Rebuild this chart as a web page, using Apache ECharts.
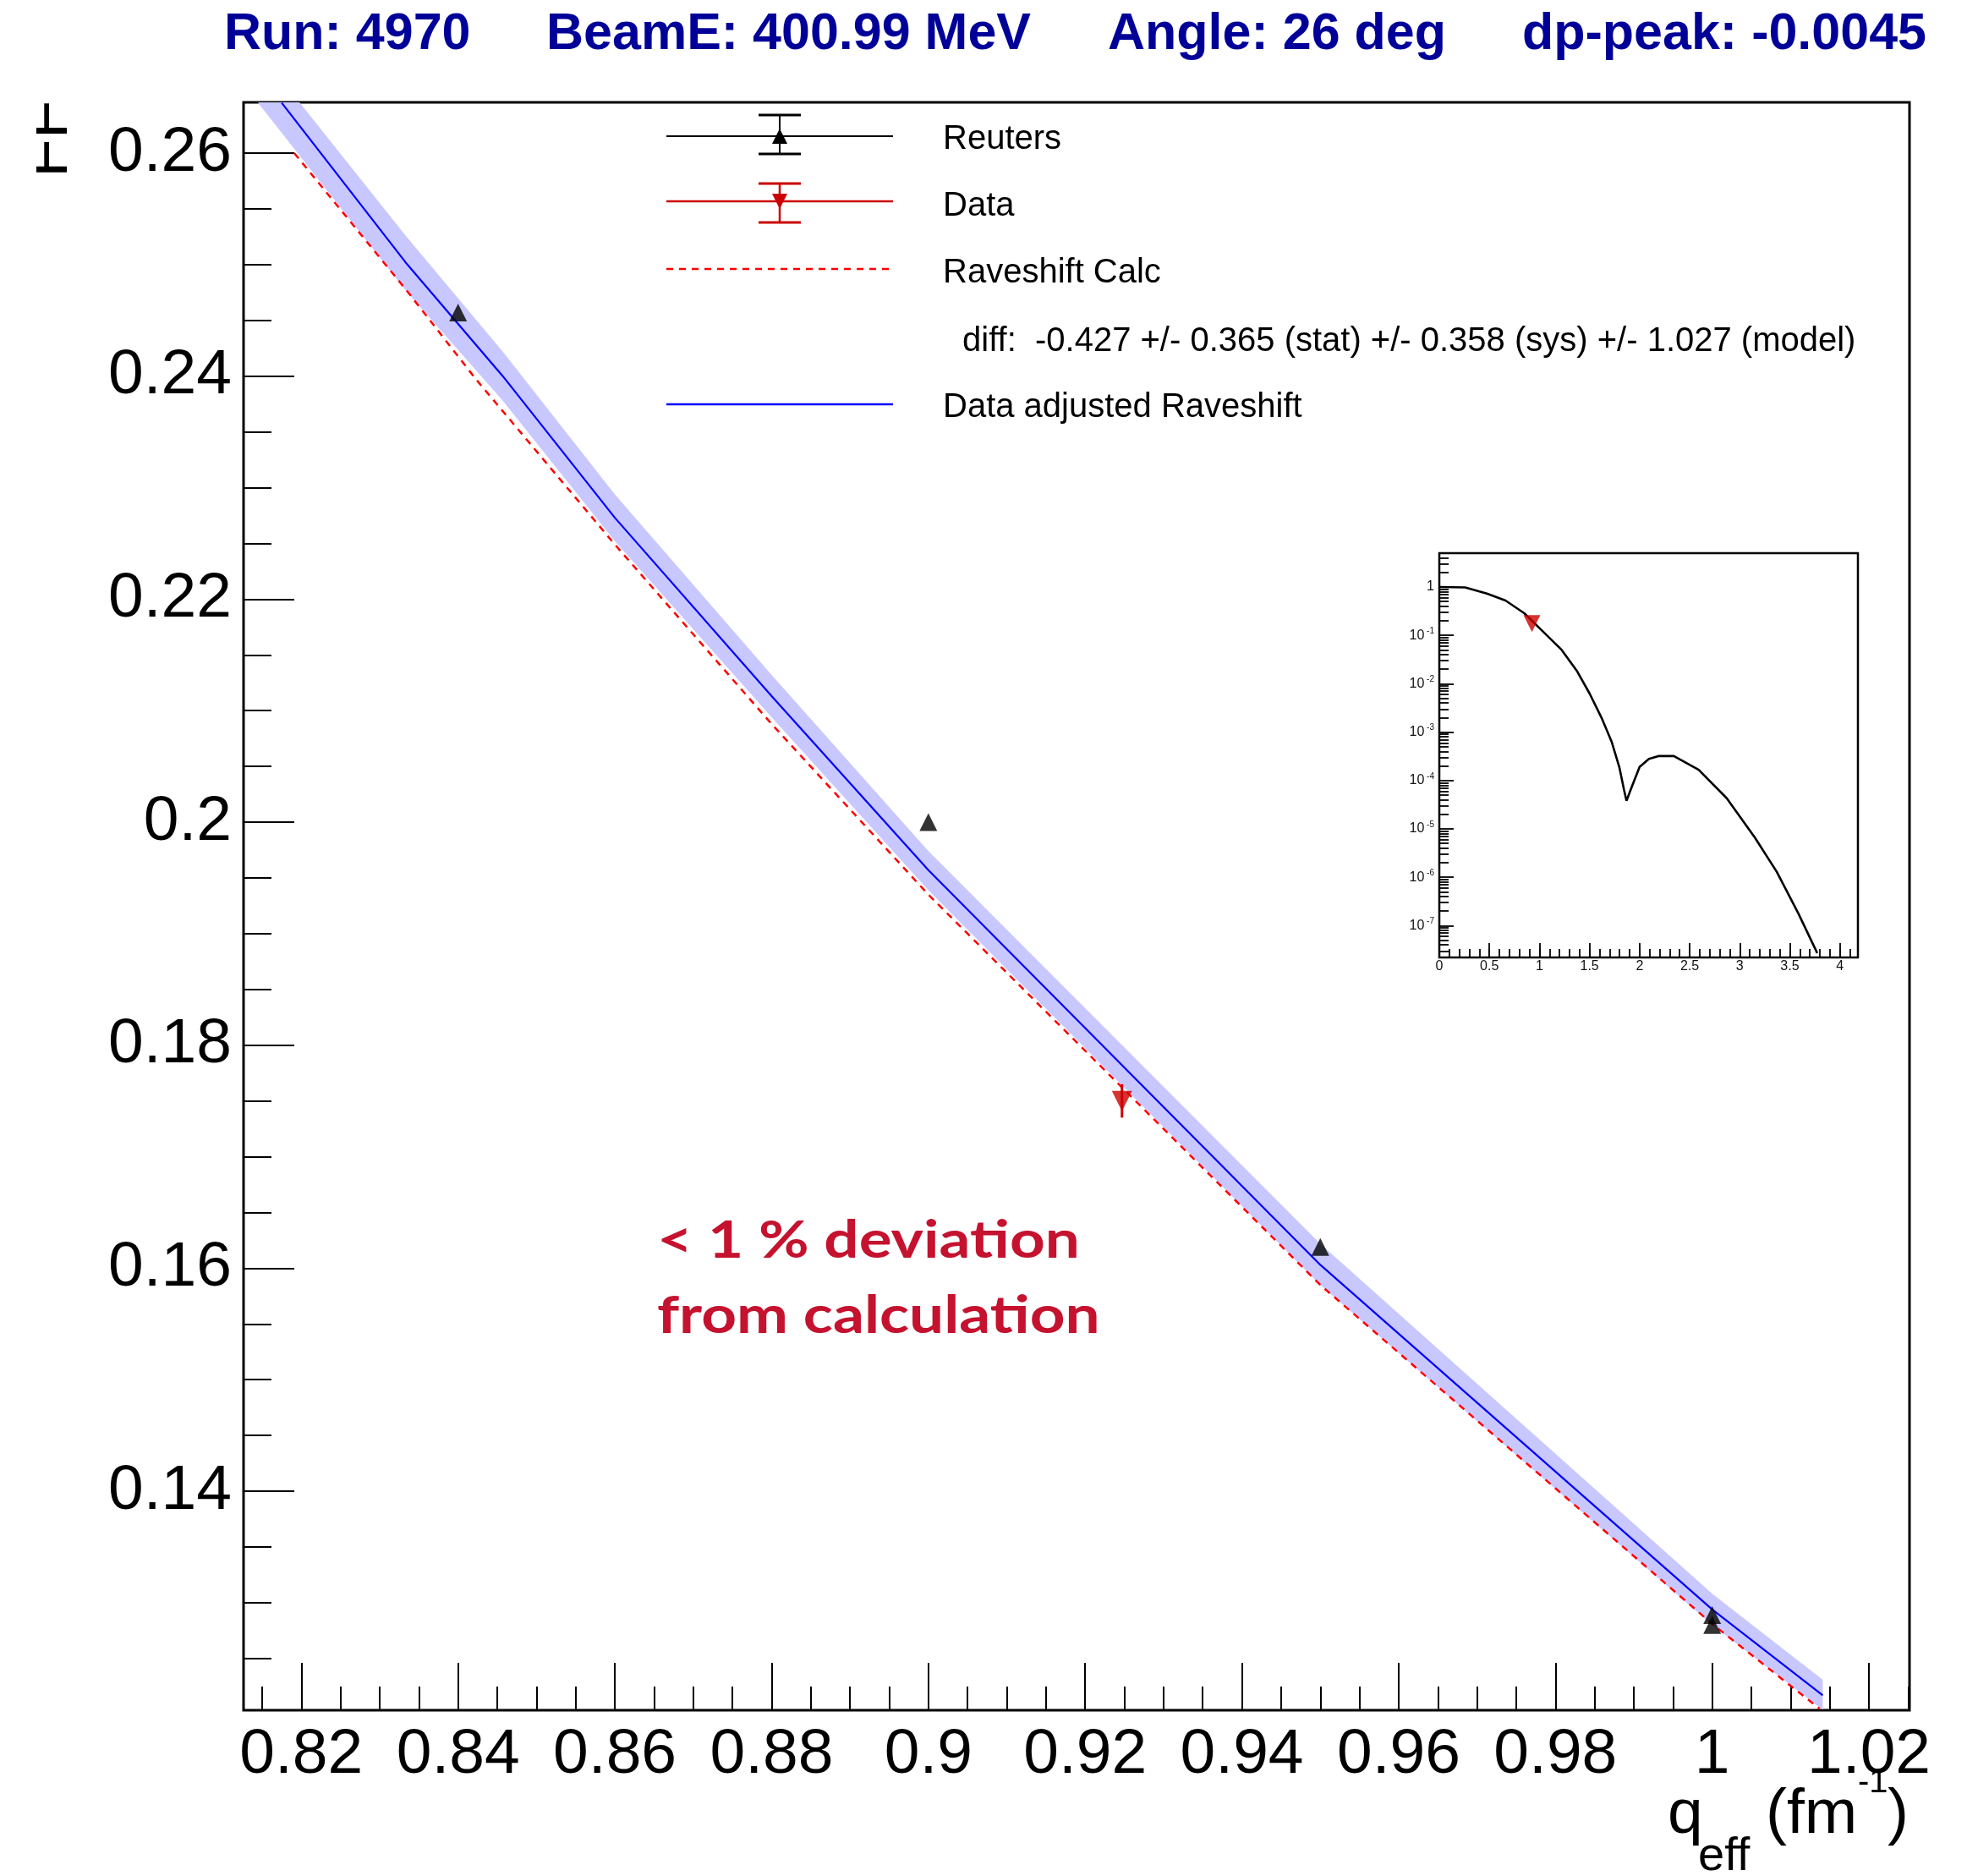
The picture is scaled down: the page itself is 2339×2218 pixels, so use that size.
<!DOCTYPE html>
<html><head><meta charset="utf-8">
<script src="https://cdn.jsdelivr.net/npm/echarts@6/dist/echarts.min.js"></script>
<style>html,body{margin:0;padding:0;background:#fff}#c{width:2339px;height:2218px}</style>
</head><body><div id="c"></div>
<script>
// ---- main panel data ----
const calcX = [0.8191, 0.8333, 0.8423, 0.86, 0.88, 0.90, 0.95, 1.00, 1.0137];
const calcY = [0.2600, 0.2478, 0.2397, 0.2249, 0.2088, 0.1935, 0.1585, 0.1281, 0.1205];
const fitX  = [0.8175, 0.8333, 0.8457, 0.86, 0.88, 0.90, 0.95, 1.00, 1.0141];
const fitY  = [0.2645, 0.2502, 0.2400, 0.2273, 0.2113, 0.1957, 0.1603, 0.1294, 0.1217];
const bandX  = [0.8145, 0.8333, 0.8457, 0.86, 0.88, 0.90, 0.95, 1.00, 1.0141];
const bandLo = [0.2645, 0.2477, 0.2378, 0.2252, 0.2094, 0.1939, 0.1585, 0.1280, 0.1204];
const bandHi = [0.2692, 0.2526, 0.2422, 0.2294, 0.2132, 0.1974, 0.1622, 0.1308, 0.1231];
const reutersX = [0.84, 0.90, 0.95, 1.00, 1.00];
const reutersY = [0.2457, 0.2000, 0.1619, 0.1289, 0.1280];
const dataX = [0.9247];
const dataY = [0.1750];
const dataErr = [0.0015];
const xMajor = [0.82, 0.84, 0.86, 0.88, 0.9, 0.92, 0.94, 0.96, 0.98, 1, 1.02];
const yMajor = [0.14, 0.16, 0.18, 0.2, 0.22, 0.24, 0.26];
const xMinor = []; for (let i = 163; i <= 205; i++) xMinor.push(+(i * 0.005).toFixed(3));
const yMinor = []; for (let i = 25; i <= 52; i++) yMinor.push(+(i * 0.005).toFixed(3));
// ---- inset data ----
const insetQ = [0, 0.257, 0.4745, 0.661, 0.848, 1.035, 1.222, 1.377, 1.502, 1.626, 1.72, 1.797, 1.844, 1.869, 1.922, 2.0, 2.093, 2.187, 2.342, 2.59, 2.87, 3.151, 3.369, 3.587, 3.774];
const insetF = [1.0, 0.98, 0.73, 0.525, 0.287, 0.12, 0.05, 0.018, 6.2e-3, 1.86e-3, 6.4e-4, 1.9e-4, 6.5e-5, 3.8e-5, 7.4e-5, 1.9e-4, 2.8e-4, 3.2e-4, 3.2e-4, 1.66e-4, 4.3e-5, 6.6e-6, 1.3e-6, 1.76e-7, 2.7e-8];
const insetXMajor = [0, 0.5, 1, 1.5, 2, 2.5, 3, 3.5, 4];
const insetXMinor = []; for (let i = 0; i <= 41; i++) insetXMinor.push(+(i * 0.1).toFixed(1));
const insetYMajor = [1e-7, 1e-6, 1e-5, 1e-4, 1e-3, 1e-2, 1e-1, 1];
const insetYMinor = []; for (let e = -8; e <= 0; e++) for (let k = 2; k <= 9; k++) { const v = k * Math.pow(10, e); if (v > 2.2e-8 && v < 5) insetYMinor.push(v); }

const X_MIN = 0.81263, X_MAX = 1.02517, Y_MIN = 0.12036, Y_MAX = 0.26455;
const FONT = '"Liberation Sans", Arial, sans-serif';
const chart = echarts.init(document.getElementById('c'), null, {renderer: 'canvas'});

function pairs(xs, ys) { return xs.map((x, i) => [x, ys[i]]); }
const tickStyle = {color: '#000', width: 2};
const insetTick = {color: '#000', width: 1.8};

const option = {
  animation: false,
  backgroundColor: '#fff',
  grid: [
    {left: 288, top: 121, right: 81, bottom: 196, show: true, borderColor: '#000', borderWidth: 3, backgroundColor: 'transparent'},
    {left: 1702, top: 654, width: 495, height: 478, show: true, borderColor: '#000', borderWidth: 2.5, backgroundColor: '#fff'}
  ],
  xAxis: [
    {gridIndex: 0, type: 'value', min: X_MIN, max: X_MAX, position: 'bottom', axisLine: {show: false}, splitLine: {show: false},
     axisTick: {inside: true, length: 56, lineStyle: tickStyle, customValues: xMajor},
     axisLabel: {customValues: xMajor, fontSize: 75, fontFamily: FONT, color: '#000', margin: 16}},
    {gridIndex: 0, type: 'value', min: X_MIN, max: X_MAX, position: 'bottom', axisLine: {show: false}, splitLine: {show: false},
     axisTick: {inside: true, length: 28, lineStyle: tickStyle, customValues: xMinor}, axisLabel: {show: false}},
    {gridIndex: 1, type: 'value', min: 0, max: 4.18, position: 'bottom', axisLine: {show: false}, splitLine: {show: false},
     axisTick: {inside: true, length: 17, lineStyle: insetTick, customValues: insetXMajor},
     axisLabel: {customValues: insetXMajor, fontSize: 16, fontFamily: FONT, color: '#111', margin: 3}},
    {gridIndex: 1, type: 'value', min: 0, max: 4.18, position: 'bottom', axisLine: {show: false}, splitLine: {show: false},
     axisTick: {inside: true, length: 10, lineStyle: insetTick, customValues: insetXMinor}, axisLabel: {show: false}}
  ],
  yAxis: [
    {gridIndex: 0, type: 'value', min: Y_MIN, max: Y_MAX, position: 'left', axisLine: {show: false}, splitLine: {show: false},
     axisTick: {inside: true, length: 60, lineStyle: tickStyle, customValues: yMajor},
     axisLabel: {customValues: yMajor, fontSize: 75, fontFamily: FONT, color: '#000', margin: 14}},
    {gridIndex: 0, type: 'value', min: Y_MIN, max: Y_MAX, position: 'left', axisLine: {show: false}, splitLine: {show: false},
     axisTick: {inside: true, length: 33, lineStyle: tickStyle, customValues: yMinor}, axisLabel: {show: false}},
    {gridIndex: 1, type: 'log', logBase: 10, min: 2.2e-8, max: 5, position: 'left', axisLine: {show: false}, splitLine: {show: false},
     axisTick: {inside: true, length: 17, lineStyle: insetTick, customValues: insetYMajor},
     axisLabel: {customValues: insetYMajor, fontFamily: FONT, color: '#111', margin: 6,
       formatter: v => { const e = Math.round(Math.log10(v)); return e === 0 ? '{b|1}' : '{b|10}{s| ' + e + '}'; },
       rich: {b: {fontSize: 16, fontFamily: FONT, lineHeight: 20}, s: {fontSize: 10, fontFamily: FONT, lineHeight: 10, verticalAlign: 'top'}}}},
    {gridIndex: 1, type: 'log', logBase: 10, min: 2.2e-8, max: 5, position: 'left', axisLine: {show: false}, splitLine: {show: false},
     axisTick: {inside: true, length: 11, lineStyle: insetTick, customValues: insetYMinor}, axisLabel: {show: false}}
  ],
  series: [
    {type: 'custom', xAxisIndex: 0, yAxisIndex: 0, clip: true, silent: true, z: 1,
     data: [[bandX[0], bandLo[0]]], encode: {x: 0, y: 1},
     renderItem: (params, api) => {
       const pts = [];
       for (let i = 0; i < bandX.length; i++) pts.push(api.coord([bandX[i], bandHi[i]]));
       for (let i = bandX.length - 1; i >= 0; i--) pts.push(api.coord([bandX[i], bandLo[i]]));
       return {type: 'polygon', shape: {points: pts}, style: {fill: '#c8c8ff', stroke: null}};
     }},
    {type: 'line', name: 'Raveshift Calc', xAxisIndex: 0, yAxisIndex: 0, data: pairs(calcX, calcY), showSymbol: false, z: 3,
     lineStyle: {color: '#ff0000', width: 2.5, type: [8, 7]}},
    {type: 'line', name: 'Data adjusted Raveshift', xAxisIndex: 0, yAxisIndex: 0, data: pairs(fitX, fitY), showSymbol: false, z: 4,
     lineStyle: {color: '#0000ff', width: 2.2}},
    {type: 'scatter', name: 'Reuters', xAxisIndex: 0, yAxisIndex: 0, data: pairs(reutersX, reutersY), symbol: 'triangle', symbolSize: 21, z: 5,
     itemStyle: {color: '#000'}},
    {type: 'custom', name: 'Data err', xAxisIndex: 0, yAxisIndex: 0, z: 5,
     data: dataX.map((x, i) => [x, dataY[i], dataErr[i]]), encode: {x: 0, y: 1},
     renderItem: (params, api) => {
       const x = api.value(0), y = api.value(1), e = api.value(2);
       const t = api.coord([x, y + e]), b = api.coord([x, y - e]);
       return {type: 'line', shape: {x1: t[0], y1: t[1], x2: b[0], y2: b[1]}, style: {stroke: '#cc0000', lineWidth: 3}};
     }},
    {type: 'scatter', name: 'Data', xAxisIndex: 0, yAxisIndex: 0, data: pairs(dataX, dataY), symbol: 'triangle', symbolRotate: 180, symbolSize: 24, z: 6,
     itemStyle: {color: '#cc0000'}},
    {type: 'line', xAxisIndex: 2, yAxisIndex: 2, data: pairs(insetQ, insetF), showSymbol: false, z: 3,
     lineStyle: {color: '#000', width: 2.6}},
    {type: 'scatter', xAxisIndex: 2, yAxisIndex: 2, data: pairs(dataX, dataY), symbol: 'triangle', symbolRotate: 180, symbolSize: 20, z: 6,
     itemStyle: {color: '#cc0000'}}
  ],
  graphic: [
    // title
    {type: 'text', x: 265, y: 41, style: {text: 'Run: 4970', font: 'bold 61px ' + FONT, fill: '#000099', verticalAlign: 'middle'}},
    {type: 'text', x: 646, y: 41, style: {text: 'BeamE: 400.99 MeV', font: 'bold 61px ' + FONT, fill: '#000099', verticalAlign: 'middle'}},
    {type: 'text', x: 1310, y: 41, style: {text: 'Angle: 26 deg', font: 'bold 61px ' + FONT, fill: '#000099', verticalAlign: 'middle'}},
    {type: 'text', x: 1800, y: 41, style: {text: 'dp-peak: -0.0045', font: 'bold 61px ' + FONT, fill: '#000099', verticalAlign: 'middle'}},
    // y title (clipped by pad edge)
    {type: 'text', x: 58, y: 210, rotation: Math.PI / 2, z: 50, style: {text: 'FF', font: '75px ' + FONT, fill: '#000', align: 'left', verticalAlign: 'middle'}},
    {type: 'rect', shape: {x: 0, y: 80, width: 43, height: 170}, z: 60, style: {fill: '#fff'}},
    // x title
    {type: 'text', x: 1972, y: 2146, z: 50, style: {text: 'q', font: '75px ' + FONT, fill: '#000', verticalAlign: 'middle'}},
    {type: 'text', x: 2008, y: 2196, z: 50, style: {text: 'eff', font: '56px ' + FONT, fill: '#000', verticalAlign: 'middle'}},
    {type: 'text', x: 2088, y: 2146, z: 50, style: {text: '(fm', font: '75px ' + FONT, fill: '#000', verticalAlign: 'middle'}},
    {type: 'text', x: 2197, y: 2108, z: 50, style: {text: '-1', font: '40px ' + FONT, fill: '#000', verticalAlign: 'middle'}},
    {type: 'text', x: 2232, y: 2146, z: 50, style: {text: ')', font: '75px ' + FONT, fill: '#000', verticalAlign: 'middle'}},
    // legend
    {type: 'line', shape: {x1: 788, y1: 161, x2: 1056, y2: 161}, z: 50, style: {stroke: '#000', lineWidth: 2}},
    {type: 'line', shape: {x1: 922, y1: 136, x2: 922, y2: 182}, z: 50, style: {stroke: '#000', lineWidth: 2}},
    {type: 'line', shape: {x1: 897, y1: 136, x2: 947, y2: 136}, z: 50, style: {stroke: '#000', lineWidth: 3}},
    {type: 'line', shape: {x1: 897, y1: 182, x2: 947, y2: 182}, z: 50, style: {stroke: '#000', lineWidth: 3}},
    {type: 'polygon', shape: {points: [[922, 152], [931, 170], [913, 170]]}, z: 51, style: {fill: '#000'}},
    {type: 'text', x: 1115, y: 165, z: 50, style: {text: 'Reuters', font: '40px ' + FONT, fill: '#000', verticalAlign: 'middle'}},
    {type: 'line', shape: {x1: 788, y1: 238, x2: 1056, y2: 238}, z: 50, style: {stroke: '#cc0000', lineWidth: 2.5}},
    {type: 'line', shape: {x1: 922, y1: 217, x2: 922, y2: 263}, z: 50, style: {stroke: '#cc0000', lineWidth: 2.5}},
    {type: 'line', shape: {x1: 897, y1: 217, x2: 947, y2: 217}, z: 50, style: {stroke: '#cc0000', lineWidth: 3}},
    {type: 'line', shape: {x1: 897, y1: 263, x2: 947, y2: 263}, z: 50, style: {stroke: '#cc0000', lineWidth: 3}},
    {type: 'polygon', shape: {points: [[913, 229], [931, 229], [922, 247]]}, z: 51, style: {fill: '#cc0000'}},
    {type: 'text', x: 1115, y: 244, z: 50, style: {text: 'Data', font: '40px ' + FONT, fill: '#000', verticalAlign: 'middle'}},
    {type: 'line', shape: {x1: 788, y1: 318, x2: 1056, y2: 318}, z: 50, style: {stroke: '#ff0000', lineWidth: 2.5, lineDash: [8, 7]}},
    {type: 'text', x: 1115, y: 323, z: 50, style: {text: 'Raveshift Calc', font: '40px ' + FONT, fill: '#000', verticalAlign: 'middle'}},
    {type: 'text', x: 1138, y: 404, z: 50, style: {text: 'diff:  -0.427 +/- 0.365 (stat) +/- 0.358 (sys) +/- 1.027 (model)', font: '40px ' + FONT, fill: '#000', verticalAlign: 'middle'}},
    {type: 'line', shape: {x1: 788, y1: 478, x2: 1056, y2: 478}, z: 50, style: {stroke: '#0000ff', lineWidth: 2.5}},
    {type: 'text', x: 1115, y: 482, z: 50, style: {text: 'Data adjusted Raveshift', font: '40px ' + FONT, fill: '#000', verticalAlign: 'middle'}},
    // annotation
    {type: 'text', x: 777, y: 1467, scaleX: 1.175, z: 50, style: {text: '< 1 % deviation', font: 'bold 62px Lato, ' + FONT, fill: '#c4122f', verticalAlign: 'middle'}},
    {type: 'text', x: 777, y: 1556, scaleX: 1.175, z: 50, style: {text: 'from calculation', font: 'bold 62px Lato, ' + FONT, fill: '#c4122f', verticalAlign: 'middle'}}
  ]
};
chart.setOption(option);
</script></body></html>
